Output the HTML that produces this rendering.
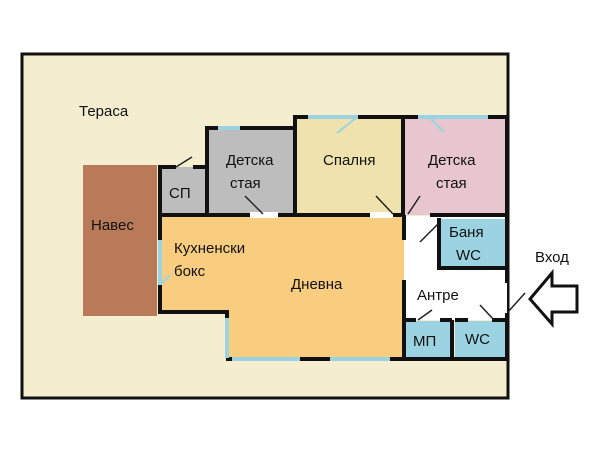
<!DOCTYPE html>
<html><head><meta charset="utf-8"><style>
html,body{margin:0;padding:0;background:#fff;width:600px;height:450px;overflow:hidden}
text{font-family:"Liberation Sans","DejaVu Sans",sans-serif;fill:#111}
</style></head><body>
<svg width="600" height="450" viewBox="0 0 600 450" xmlns="http://www.w3.org/2000/svg">
<rect x="22" y="54" width="486" height="344" fill="#f5edd0" stroke="#111" stroke-width="3"/>
<rect x="83" y="165" width="74" height="151" fill="#b87a58"/>
<rect x="160" y="167" width="47" height="48" fill="#bdbdbd"/>
<rect x="208" y="128" width="87" height="87" fill="#bdbdbd"/>
<rect x="296" y="117" width="107" height="98" fill="#efe2ac"/>
<rect x="404" y="117" width="103" height="98" fill="#e8c6d0"/>
<polygon points="160,216 404,216 404,358 227,358 227,312 160,312" fill="#f8cd80"/>
<rect x="404" y="216" width="103" height="104" fill="#fff"/>
<rect x="439" y="219" width="66" height="49" fill="#9cd3e3"/>
<rect x="405" y="321" width="47" height="37" fill="#9cd3e3"/>
<rect x="455" y="321" width="50" height="37" fill="#9cd3e3"/>
<rect x="250" y="212" width="28" height="6" fill="#fff"/>
<rect x="370" y="212" width="23" height="6" fill="#fff"/>
<g stroke="#111" stroke-width="4" fill="none">
<polyline points="160,312 160,167 176,167"/>
<line x1="193" y1="167" x2="207" y2="167"/>
<polyline points="207,215 207,128 218,128"/>
<line x1="240" y1="128" x2="295" y2="128"/>
<polyline points="295,215 295,117 308,117"/>
<line x1="358" y1="117" x2="403" y2="117"/>
<line x1="403" y1="117" x2="403" y2="215"/>
<line x1="403" y1="117" x2="418" y2="117"/>
<line x1="488" y1="117" x2="507" y2="117"/>
<polyline points="507,117 507,283"/>
<line x1="507" y1="313" x2="507" y2="360"/>
<line x1="160" y1="215" x2="250" y2="215"/>
<line x1="278" y1="215" x2="370" y2="215"/>
<line x1="393" y1="215" x2="403" y2="215"/>
<line x1="430" y1="215" x2="507" y2="215"/>
<polyline points="439,218 439,268 507,268"/>
<polyline points="158,312 227,312 227,318"/>
<line x1="404" y1="215" x2="404" y2="240"/>
<line x1="404" y1="280" x2="404" y2="360"/>
<line x1="404" y1="320" x2="416" y2="320"/>
<line x1="440" y1="320" x2="452" y2="320"/>
<line x1="452" y1="320" x2="452" y2="360"/>
<line x1="455" y1="320" x2="468" y2="320"/>
<line x1="492" y1="320" x2="507" y2="320"/>
<line x1="226" y1="359" x2="507" y2="359"/>
</g>
<g stroke="#9cd3e3" stroke-width="4">
<line x1="218" y1="128" x2="240" y2="128"/>
<line x1="308" y1="117" x2="358" y2="117"/>
<line x1="418" y1="117" x2="488" y2="117"/>
<line x1="160" y1="240" x2="160" y2="285"/>
<line x1="227" y1="318" x2="227" y2="358"/>
<line x1="232" y1="359" x2="300" y2="359"/>
<line x1="330" y1="359" x2="390" y2="359"/>
</g>
<g stroke="#222" stroke-width="1.5">
<line x1="176" y1="167" x2="192" y2="157"/>
<line x1="263" y1="214" x2="245" y2="196"/>
<line x1="393" y1="214" x2="376" y2="196"/>
<line x1="408" y1="214" x2="420" y2="196"/>
<line x1="420" y1="242" x2="438" y2="224"/>
<line x1="418" y1="320" x2="432" y2="310"/>
<line x1="494" y1="320" x2="480" y2="305"/>
<line x1="508" y1="312" x2="525" y2="293"/>
</g>
<g stroke="#9cd3e3" stroke-width="2">
<line x1="337" y1="133" x2="356" y2="118"/>
<line x1="430" y1="118" x2="444" y2="132"/>
<line x1="162" y1="283" x2="170" y2="275"/>
</g>
<polygon points="530,299 552,273 552,286 577,286 577,312 552,312 552,324" fill="#fff" stroke="#111" stroke-width="3"/>
<text x="79" y="116" font-size="15">Тераса</text>
<text x="91" y="230" font-size="15">Навес</text>
<text x="169" y="198" font-size="15">СП</text>
<text x="226" y="165" font-size="15">Детска</text>
<text x="230" y="188" font-size="15">стая</text>
<text x="323" y="165" font-size="15">Спалня</text>
<text x="428" y="165" font-size="15">Детска</text>
<text x="436" y="188" font-size="15">стая</text>
<text x="174" y="253" font-size="15">Кухненски</text>
<text x="174" y="276" font-size="15">бокс</text>
<text x="291" y="289" font-size="15">Дневна</text>
<text x="449" y="237" font-size="15">Баня</text>
<text x="456" y="260" font-size="15">WC</text>
<text x="417" y="300" font-size="15">Антре</text>
<text x="413" y="346" font-size="15">МП</text>
<text x="465" y="344" font-size="15">WC</text>
<text x="535" y="262" font-size="15">Вход</text>
</svg>
</body></html>
